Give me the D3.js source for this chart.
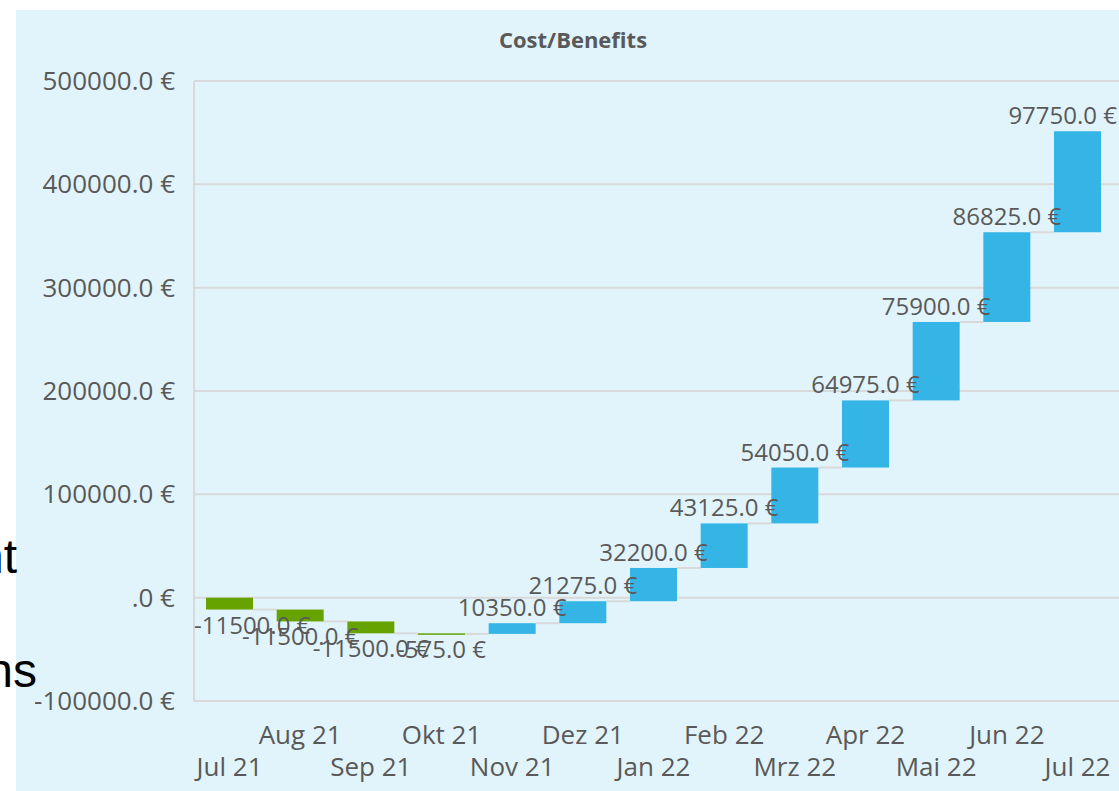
<!DOCTYPE html>
<html lang="de">
<head>
<meta charset="UTF-8">
<title>Cost/Benefits</title>
<script src="https://d3js.org/d3.v7.min.js"></script>
<style>
    body { margin: 0; background: #ffffff; }
    svg { display: block; }
    .tick-label { font-family: "Open Sans", sans-serif; font-size: 26px; fill: #595959; }
    .wert { font-family: "Open Sans", sans-serif; font-size: 24px; fill: #595959; }
    .titel { font-family: "Open Sans", sans-serif; font-size: 22px; font-weight: bold; fill: #595959; }
    .rest { font-family: "Liberation Sans", Arial, sans-serif; font-size: 48px; fill: #000; }
</style>
</head>
<body>
<svg width="1119" height="791"></svg>
<script>
    // Monate und Veränderungen (Delta pro Monat)
    const monate = ["Jul 21", "Aug 21", "Sep 21", "Okt 21", "Nov 21", "Dez 21", "Jan 22",
                    "Feb 22", "Mrz 22", "Apr 22", "Mai 22", "Jun 22", "Jul 22"];
    const deltas = [-11500, -11500, -11500, -575, 10350, 21275, 32200,
                    43125, 54050, 64975, 75900, 86825, 97750];
    const yTicks = [-100000, 0, 100000, 200000, 300000, 400000, 500000];

    const width = 1119, height = 791;
    const svg = d3.select("svg");

    // Hintergrundfläche
    svg.append("rect")
        .attr("x", 16).attr("y", 10)
        .attr("width", width - 16).attr("height", height - 10)
        .attr("fill", "#e1f4fb");

    // Text, der hinter dem Diagramm hervorschaut
    svg.append("text").attr("class", "rest").attr("x", 17).attr("y", 573)
        .attr("text-anchor", "end").text("nt");
    svg.append("text").attr("class", "rest").attr("x", 37).attr("y", 687)
        .attr("text-anchor", "end").text("ns");

    const links = 194, rechts = 1113;
    const x = d3.scaleBand().domain(monate).range([links, rechts]).paddingInner(0.335).paddingOuter(0.17);
    const y = d3.scaleLinear().domain([-100000, 500000]).range([701, 81]);

    const fmt = v => v === 0 ? ".0 €" : v.toFixed(1) + " €";

    // Gitterlinien
    svg.append("g").selectAll("line").data(yTicks).join("line")
        .attr("x1", links).attr("x2", width)
        .attr("y1", d => y(d)).attr("y2", d => y(d))
        .attr("stroke", "#d9d9d9").attr("stroke-width", 2);

    svg.append("line")
        .attr("x1", links).attr("x2", links)
        .attr("y1", y(500000)).attr("y2", y(-100000))
        .attr("stroke", "#d9d9d9").attr("stroke-width", 2);

    svg.append("g").selectAll("text").data(yTicks).join("text")
        .attr("class", "tick-label")
        .attr("x", 175).attr("y", d => y(d) + 9)
        .attr("text-anchor", "end")
        .text(fmt);

    // Wasserfall berechnen
    let summe = 0;
    const balken = monate.map((m, i) => {
        const start = summe;
        summe += deltas[i];
        return { monat: m, delta: deltas[i], start: start, ende: summe };
    });

    // Verbindungslinien
    svg.append("g").selectAll("line").data(balken.slice(0, -1)).join("line")
        .attr("x1", d => x(d.monat) + x.bandwidth())
        .attr("x2", (d, i) => x(monate[i + 1]))
        .attr("y1", d => y(d.ende)).attr("y2", d => y(d.ende))
        .attr("stroke", "#d9d9d9").attr("stroke-width", 2);

    svg.append("g").selectAll("rect").data(balken).join("rect")
        .attr("x", d => x(d.monat))
        .attr("width", x.bandwidth())
        .attr("y", d => y(Math.max(d.start, d.ende)))
        .attr("height", d => Math.max(1.5, Math.abs(y(d.start) - y(d.ende))))
        .attr("fill", d => d.delta < 0 ? "#66a300" : "#35b5e5");

    // Datenbeschriftungen (bleiben innerhalb der Zeichenfläche)
    svg.append("g").selectAll("text").data(balken).join("text")
        .attr("class", "wert")
        .attr("text-anchor", "middle")
        .attr("x", d => x(d.monat) + x.bandwidth() / 2)
        .attr("y", d => d.delta < 0 ? y(d.ende) + 24 : y(d.ende) - 7)
        .text(d => fmt(d.delta))
        .each(function () {
            const w = this.getComputedTextLength();
            let cx = +this.getAttribute("x");
            if (cx + w / 2 > width - 2) cx = width - 2 - w / 2;
            if (cx - w / 2 < links) cx = links + w / 2;
            this.setAttribute("x", cx);
        });

    // x-Achse, abwechselnd in zwei Reihen
    svg.append("g").selectAll("text").data(monate).join("text")
        .attr("class", "tick-label")
        .attr("text-anchor", "middle")
        .attr("x", d => x(d) + x.bandwidth() / 2)
        .attr("y", (d, i) => i % 2 === 0 ? 776 : 744)
        .text(d => d);

    svg.append("text").attr("class", "titel")
        .attr("x", 573).attr("y", 48)
        .attr("text-anchor", "middle")
        .text("Cost/Benefits");
</script>
</body>
</html>
